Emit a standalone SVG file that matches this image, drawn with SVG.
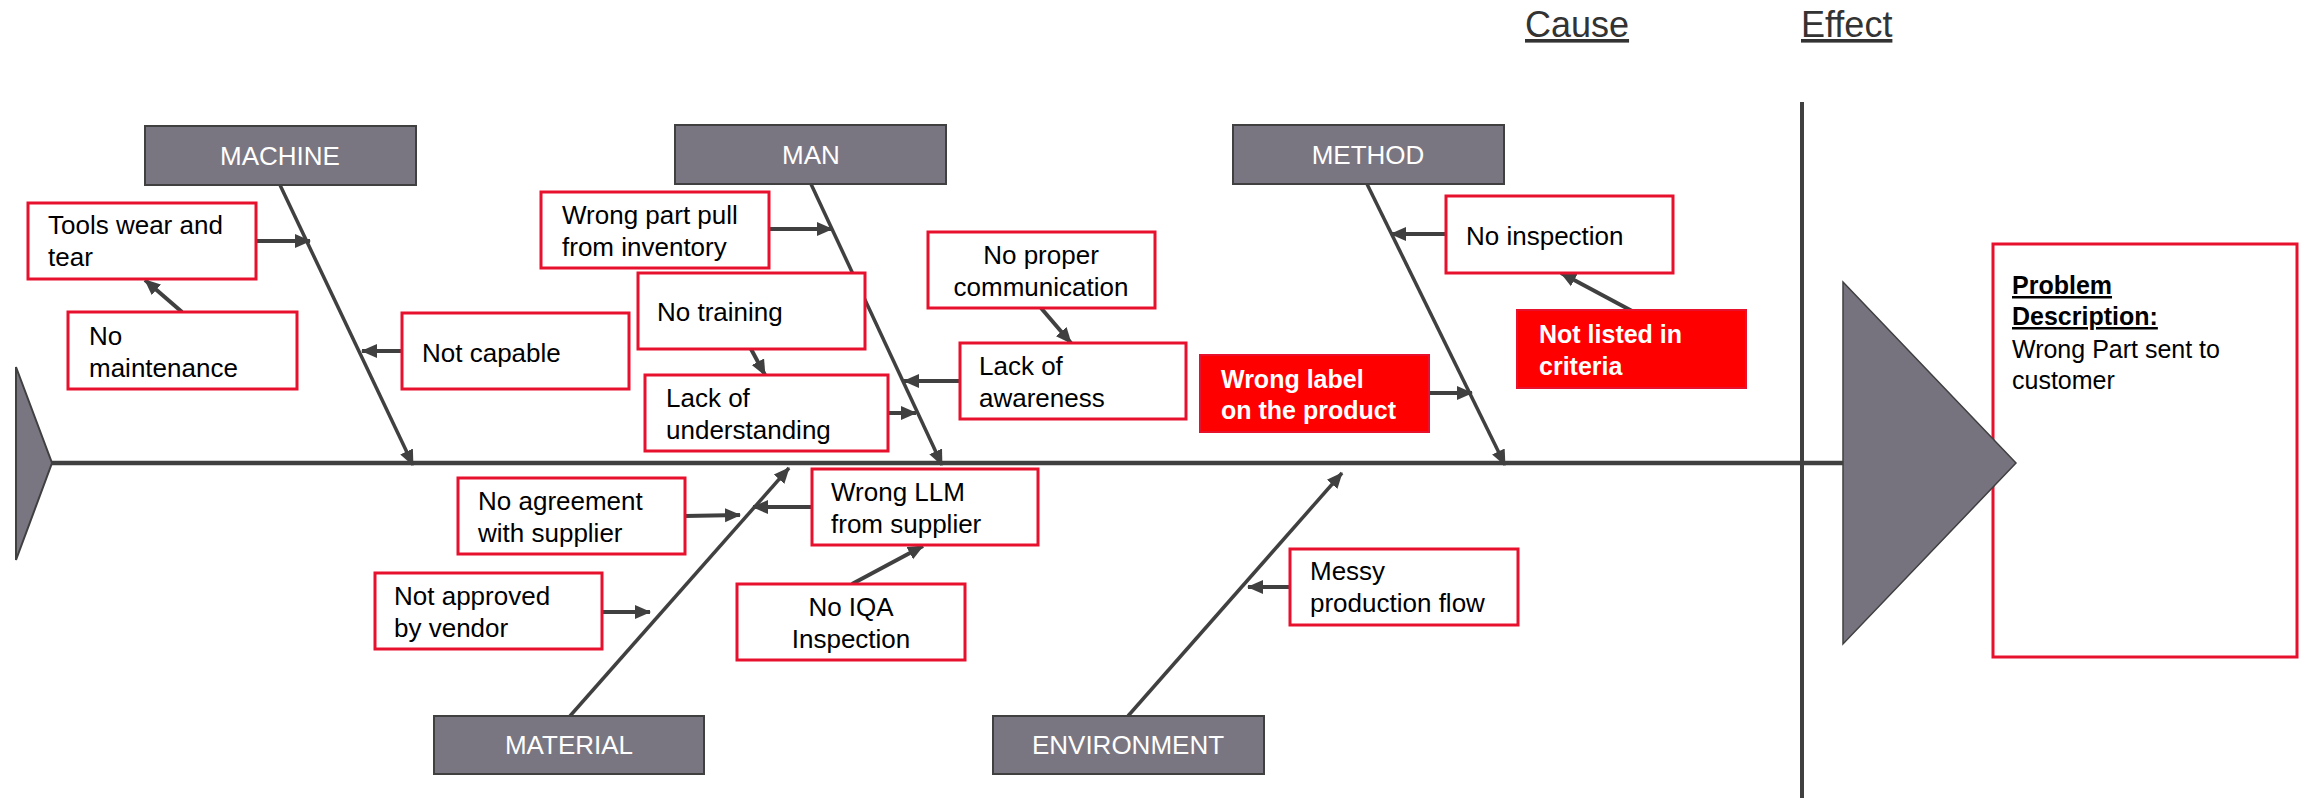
<svg xmlns="http://www.w3.org/2000/svg" width="2305" height="798" viewBox="0 0 2305 798">
<defs>
<marker id="ah" markerUnits="userSpaceOnUse" markerWidth="16" markerHeight="16" viewBox="0 0 16 16" refX="15" refY="8" orient="auto">
<path d="M0,1 L16,8 L0,15 Z" fill="#404040"/>
</marker>
</defs>
<style>
.cat rect{fill:#7a7681;stroke:#404040;stroke-width:2}
.cat text{fill:#fff;font-family:"Liberation Sans",Arial,sans-serif;font-size:26px;text-anchor:middle}
.sub rect{fill:#fff;stroke:#e8112d;stroke-width:3}
.sub text{fill:#000;font-family:"Liberation Sans",Arial,sans-serif;font-size:26px}
.red rect{fill:#ff0000;stroke:#e8112d;stroke-width:2}
.red text{fill:#fff;font-family:"Liberation Sans",Arial,sans-serif;font-size:25px;font-weight:bold}
.bone{stroke:#404040;stroke-width:3.5;fill:none}
.arr{stroke:#404040;stroke-width:4;fill:none;marker-end:url(#ah)}
.hdr{font-family:"Liberation Sans",Arial,sans-serif;font-size:36px;fill:#333;text-decoration:underline}
</style>

<text class="hdr" x="1525" y="37">Cause</text>
<text class="hdr" x="1801" y="37">Effect</text>

<g id="connectors">
<line x1="1802" y1="102" x2="1802" y2="798" stroke="#404040" stroke-width="4"/>
<line x1="51" y1="463" x2="1845" y2="463" stroke="#404040" stroke-width="4.5"/>
<line class="bone" x1="280" y1="185" x2="413" y2="465" marker-end="url(#ah)"/>
<line class="bone" x1="811" y1="184" x2="942" y2="465" marker-end="url(#ah)"/>
<line class="bone" x1="1367" y1="184" x2="1505" y2="465" marker-end="url(#ah)"/>
<line class="bone" x1="570" y1="716" x2="789" y2="468" marker-end="url(#ah)"/>
<line class="bone" x1="1128" y1="716" x2="1342" y2="473" marker-end="url(#ah)"/>
<line class="arr" x1="256" y1="241" x2="310" y2="241"/>
<line class="arr" x1="182" y1="312" x2="145" y2="280"/>
<line class="arr" x1="402" y1="351" x2="362" y2="351"/>
<line class="arr" x1="769" y1="229" x2="832" y2="229"/>
<line class="arr" x1="751" y1="349" x2="765" y2="375"/>
<line class="arr" x1="888" y1="413" x2="916" y2="413"/>
<line class="arr" x1="1041" y1="308" x2="1071" y2="343"/>
<line class="arr" x1="960" y1="381" x2="904" y2="381"/>
<line class="arr" x1="1446" y1="234" x2="1391" y2="234"/>
<line class="arr" x1="1632" y1="311" x2="1561" y2="273"/>
<line class="arr" x1="1429" y1="393" x2="1472" y2="393"/>
<line class="arr" x1="685" y1="516" x2="740" y2="515"/>
<line class="arr" x1="812" y1="507" x2="753" y2="507"/>
<line class="arr" x1="602" y1="612" x2="650" y2="612"/>
<line class="arr" x1="852" y1="584" x2="923" y2="546"/>
<line class="arr" x1="1290" y1="587" x2="1248" y2="587"/>
</g>

<g id="tail"><polygon points="16,367 52,463 16,560" fill="#7a7681" stroke="#404040" stroke-width="2"/></g>

<g id="machine" class="cat"><rect x="145" y="126" width="271" height="59"/><text x="280" y="165">MACHINE</text></g>
<g id="man" class="cat"><rect x="675" y="125" width="271" height="59"/><text x="811" y="164">MAN</text></g>
<g id="method" class="cat"><rect x="1233" y="125" width="271" height="59"/><text x="1368" y="164">METHOD</text></g>
<g id="material" class="cat"><rect x="434" y="716" width="270" height="58"/><text x="569" y="754">MATERIAL</text></g>
<g id="environment" class="cat"><rect x="993" y="716" width="271" height="58"/><text x="1128" y="754">ENVIRONMENT</text></g>

<g id="tools" class="sub"><rect x="28" y="203" width="228" height="76"/><text x="48" y="234">Tools wear and</text><text x="48" y="266">tear</text></g>
<g id="nomaint" class="sub"><rect x="68" y="312" width="229" height="77"/><text x="89" y="345">No</text><text x="89" y="377">maintenance</text></g>
<g id="notcapable" class="sub"><rect x="402" y="313" width="227" height="76"/><text x="422" y="362">Not capable</text></g>
<g id="wrongpart" class="sub"><rect x="541" y="192" width="228" height="76"/><text x="562" y="224">Wrong part pull</text><text x="562" y="256">from inventory</text></g>
<g id="notraining" class="sub"><rect x="638" y="273" width="227" height="76"/><text x="657" y="321">No training</text></g>
<g id="lackund" class="sub"><rect x="645" y="375" width="243" height="76"/><text x="666" y="407">Lack of</text><text x="666" y="439">understanding</text></g>
<g id="noproper" class="sub"><rect x="928" y="232" width="227" height="76"/><text x="1041" y="264" text-anchor="middle">No proper</text><text x="1041" y="296" text-anchor="middle">communication</text></g>
<g id="lackaw" class="sub"><rect x="960" y="343" width="226" height="76"/><text x="979" y="375">Lack of</text><text x="979" y="407">awareness</text></g>
<g id="noinsp" class="sub"><rect x="1446" y="196" width="227" height="77"/><text x="1466" y="245">No inspection</text></g>
<g id="notlisted" class="red"><rect x="1517" y="310" width="229" height="78"/><text x="1539" y="343">Not listed in</text><text x="1539" y="375">criteria</text></g>
<g id="wronglabel" class="red"><rect x="1200" y="355" width="229" height="77"/><text x="1221" y="388">Wrong label</text><text x="1221" y="419">on the product</text></g>
<g id="noagree" class="sub"><rect x="458" y="478" width="227" height="76"/><text x="478" y="510">No agreement</text><text x="478" y="542">with supplier</text></g>
<g id="wrongllm" class="sub"><rect x="812" y="469" width="226" height="76"/><text x="831" y="501">Wrong LLM</text><text x="831" y="533">from supplier</text></g>
<g id="notapproved" class="sub"><rect x="375" y="573" width="227" height="76"/><text x="394" y="605">Not approved</text><text x="394" y="637">by vendor</text></g>
<g id="noiqa" class="sub"><rect x="737" y="584" width="228" height="76"/><text x="851" y="616" text-anchor="middle">No IQA</text><text x="851" y="648" text-anchor="middle">Inspection</text></g>
<g id="messy" class="sub"><rect x="1290" y="549" width="228" height="76"/><text x="1310" y="580">Messy</text><text x="1310" y="612">production flow</text></g>

<g id="problem" class="sub"><rect x="1993" y="244" width="304" height="413"/>
<text x="2012" y="294" font-weight="bold" text-decoration="underline" style="font-size:25px">Problem</text>
<text x="2012" y="325" font-weight="bold" text-decoration="underline" style="font-size:25px">Description:</text>
<text x="2012" y="358" style="font-size:25px">Wrong Part sent to</text>
<text x="2012" y="389" style="font-size:25px">customer</text>
</g>
<g id="head"><polygon points="1843,282 2016,463 1843,644" fill="#77737e" stroke="#404040" stroke-width="1.5"/></g>
</svg>
